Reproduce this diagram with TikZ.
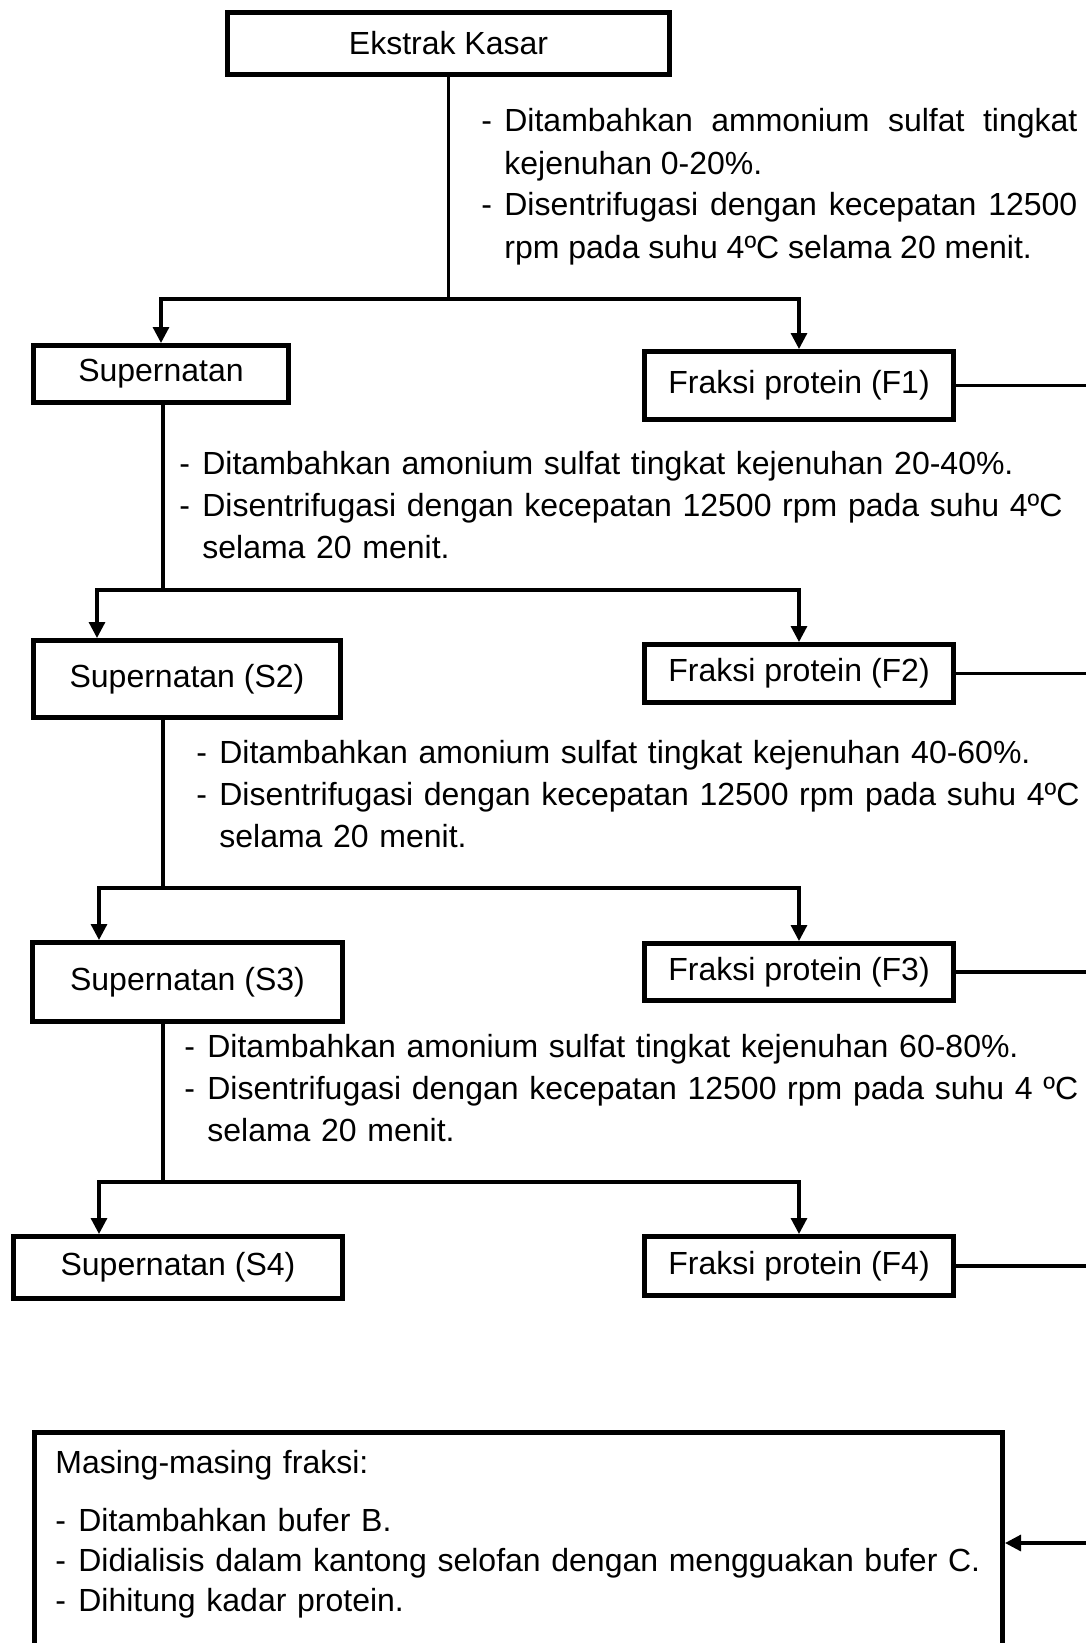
\documentclass[tikz,border=0pt]{standalone}
\usepackage{fontspec}
\setmainfont{Liberation Sans}
\usetikzlibrary{arrows.meta, positioning, calc}

\newcommand{\butir}[1]{\noindent\hangindent=11.5pt\hangafter=1\relax\makebox[11.5pt][l]{-}#1\par}

\begin{document}
\begin{tikzpicture}[
  x=0.5pt, y=-0.5pt,
  font=\fontsize{16}{21}\selectfont,
  >={Triangle[length=8pt, width=8pt]},
  kotak/.style={draw, line width=2.5pt, inner sep=0pt, align=center},
  fraksi/.style={kotak, minimum width=154.5pt},
  garis/.style={line width=1.6pt},
  panah/.style={garis, ->},
  catatan/.style={inner sep=0pt, anchor=base west, text width=#1, align=left},
  catatan/.default=460pt,
]
\path[use as bounding box, clip] (0,0) rectangle (1086,1643);

% ---------- Ekstrak kasar ----------
\node[kotak, minimum width=221pt, minimum height=31pt] (kasar) at (448.5,43.5) {Ekstrak Kasar};
\node[catatan=298pt, align=justify] (cat1) at (481,132)
  {\butir{Ditambahkan ammonium sulfat tingkat\linebreak kejenuhan 0-20\%.}%
   \butir{Disentrifugasi dengan kecepatan 12500\linebreak rpm pada suhu 4ºC selama 20 menit.}};

% ---------- Tingkat 1 ----------
\node[kotak, minimum width=127.5pt, minimum height=28.5pt] (sup1) at (161,374) {Supernatan};
\node[fraksi, minimum height=34pt] (fr1) at (799,385.5) {Fraksi protein (F1)};
\coordinate (t1) at (kasar.south |- 0,299);
\draw[garis] (kasar.south) -- (t1);
\draw[panah] (t1) -| (sup1.north);
\draw[panah] (t1) -| (fr1.north);

\node[catatan] (cat2) at (179,474)
  {\butir{Ditambahkan amonium sulfat tingkat kejenuhan 20-40\%.}%
   \butir{Disentrifugasi dengan kecepatan 12500 rpm pada suhu 4ºC\newline selama 20 menit.}};

% ---------- Tingkat 2 ----------
\node[kotak, minimum width=153.5pt, minimum height=38.5pt] (sup2) at (187,679) {Supernatan (S2)};
\node[fraksi, minimum height=29pt] (fr2) at (799,673.5) {Fraksi protein (F2)};
\coordinate (t2) at (163,590);
\draw[garis] (sup1.south -| t2) -- (t2);
\draw[panah] (t2) -| ([xshift=33pt]sup2.north west);
\draw[panah] (t2) -| (fr2.north);

\node[catatan] (cat3) at (196,763)
  {\butir{Ditambahkan amonium sulfat tingkat kejenuhan 40-60\%.}%
   \butir{Disentrifugasi dengan kecepatan 12500 rpm pada suhu 4ºC\newline selama 20 menit.}};

% ---------- Tingkat 3 ----------
\node[kotak, minimum width=155pt, minimum height=39.5pt] (sup3) at (187.5,982) {Supernatan (S3)};
\node[fraksi, minimum height=28.5pt] (fr3) at (799,972) {Fraksi protein (F3)};
\coordinate (t3) at (163,888);
\draw[garis] (sup2.south -| t3) -- (t3);
\draw[panah] (t3) -| ([xshift=34.5pt]sup3.north west);
\draw[panah] (t3) -| (fr3.north);

\node[catatan] (cat4) at (184,1057)
  {\butir{Ditambahkan amonium sulfat tingkat kejenuhan 60-80\%.}%
   \butir{Disentrifugasi dengan kecepatan 12500 rpm pada suhu 4 ºC\newline selama 20 menit.}};

% ---------- Tingkat 4 ----------
\node[kotak, minimum width=164.5pt, minimum height=31pt] (sup4) at (178,1267.5) {Supernatan (S4)};
\node[fraksi, minimum height=29.5pt] (fr4) at (799,1266) {Fraksi protein (F4)};
\coordinate (t4) at (163,1182);
\draw[garis] (sup3.south -| t4) -- (t4);
\draw[panah] (t4) -| ([xshift=44pt]sup4.north west);
\draw[panah] (t4) -| (fr4.north);

% ---------- Masing-masing fraksi ----------
\node[kotak, anchor=north west, minimum width=484pt, minimum height=150pt] (akhir) at (32,1430) {};
\node[catatan=470pt, font=\fontsize{16}{20}\selectfont] (isi) at (55,1473)
  {Masing-masing fraksi:\par\vspace{9pt}%
   \butir{Ditambahkan bufer B.}%
   \butir{Didialisis dalam kantong selofan dengan mengguakan bufer C.}%
   \butir{Dihitung kadar protein.}};

% fraksi ke kotak akhir (garis keluar di tepi kanan)
\coordinate (tepi) at (1092,1543);
\foreach \f in {fr1,fr2,fr3,fr4}
  \draw[garis] (\f.east) -- (\f.east -| tepi);
\draw[panah] (tepi) -- (tepi -| akhir.east);

\end{tikzpicture}
\end{document}
